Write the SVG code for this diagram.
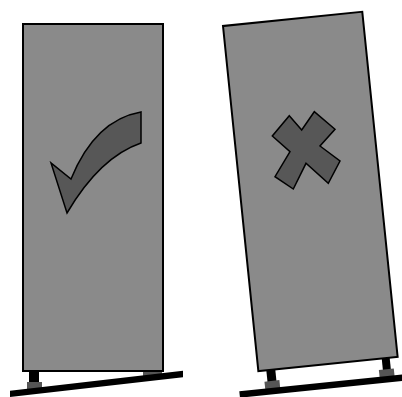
<svg xmlns="http://www.w3.org/2000/svg" width="402" height="397" viewBox="0 0 402 397">
  <style>
    .panel { fill: #8a8a8a; stroke: #000; stroke-width: 2; }
    .mark { fill: #575757; stroke: #000; stroke-width: 1.5; stroke-linejoin: miter; }
    .leg { fill: #000; }
    .foot { fill: #555; }
    .ground { fill: #000; }
  </style>
  <rect width="402" height="397" fill="#fff"/>

  <g id="stand-level">
    <rect class="leg" x="29" y="370" width="10" height="13"/>
    <rect class="foot" x="27" y="382" width="15" height="8"/>
    <rect class="foot" x="143" y="370" width="19" height="7"/>
    <polygon class="ground" points="10,390.7 183,370.7 183,377.2 10,397"/>
    <rect class="panel" x="23" y="24" width="140" height="347"/>
    <path class="mark" d="M141,112 Q95,120 71,179 L51,163 L67,213 Q100,157 141,143 Z"/>
  </g>

  <g id="stand-tilted" transform="translate(223,26) rotate(-5.85)">
    <rect class="leg" x="8" y="346" width="9" height="13"/>
    <rect class="foot" x="5" y="358" width="15" height="8"/>
    <rect class="leg" x="124" y="346" width="8" height="13"/>
    <rect class="foot" x="120" y="358" width="15" height="8"/>
    <rect class="ground" x="-21" y="365" width="175" height="6.5"/>
    <rect class="panel" x="0" y="0" width="140" height="347"/>
  </g>
  <path id="cross" class="mark" d="M289.3,115.7 L301.7,130 L314.3,111.7 L335,129.3 L320,146 L340,161 L328.3,183.3 L306,163.3 L293.3,189 L275,176.7 L290,151.7 L272.3,136 Z"/>
</svg>
